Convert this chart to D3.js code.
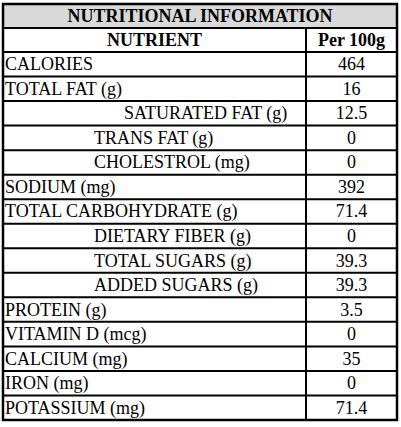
<!DOCTYPE html><html><head><meta charset="utf-8">
<script src="https://cdn.jsdelivr.net/npm/d3@7"></script>
<style>body{margin:0;background:#fff}</style></head><body>
<script>
const title = "NUTRITIONAL INFORMATION";
const headers = ["NUTRIENT", "Per 100g"];
const nutrients = ["CALORIES","TOTAL FAT (g)","SATURATED FAT (g)","TRANS FAT (g)","CHOLESTROL (mg)","SODIUM (mg)","TOTAL CARBOHYDRATE (g)","DIETARY FIBER (g)","TOTAL SUGARS (g)","ADDED SUGARS (g)","PROTEIN (g)","VITAMIN D (mcg)","CALCIUM (mg)","IRON (mg)","POTASSIUM (mg)"];
const values = ["464","16","12.5","0","0","392","71.4","0","39.3","39.3","3.5","0","35","0","71.4"];
const levels = [0,0,2,1,1,0,0,1,1,1,0,0,0,0,0];

const W=401,H=427, L=3, R=397, T=4, B=420, C=306;
const svg=d3.select("body").append("svg").attr("width",W).attr("height",H)
  .style("font-family","'Liberation Serif','Times New Roman',Times,serif").style("font-size","18px");
const hTitle=24, hHead=24;
const y=d3.scaleBand().domain(d3.range(nutrients.length)).range([T+hTitle+hHead,B]);
const indent=d3.scaleOrdinal().domain([0,1,2]).range([2,91,121]);
svg.append("rect").attr("x",L).attr("y",T).attr("width",R-L).attr("height",hTitle).attr("fill","#d9d9d9");
svg.append("text").attr("x",(L+R)/2).attr("y",T+hTitle/2+6).attr("text-anchor","middle").attr("font-weight","bold").text(title);
svg.append("text").attr("x",(L+C)/2).attr("y",T+hTitle+hHead/2+6).attr("text-anchor","middle").attr("font-weight","bold").text(headers[0]);
svg.append("text").attr("x",(C+R)/2).attr("y",T+hTitle+hHead/2+6).attr("text-anchor","middle").attr("font-weight","bold").text(headers[1]);
const g=svg.selectAll("g.row").data(nutrients).join("g");
g.append("text").attr("x",(d,i)=>L+indent(levels[i])).attr("y",(d,i)=>y(i)+y.bandwidth()/2+6).text(d=>d);
g.append("text").attr("x",(C+R)/2).attr("y",(d,i)=>y(i)+y.bandwidth()/2+6).attr("text-anchor","middle").text((d,i)=>values[i]);
const lines=[T+hTitle,T+hTitle+hHead,...d3.range(1,nutrients.length).map(i=>y(i))];
svg.selectAll("line.h").data(lines).join("line").attr("x1",L).attr("x2",R).attr("y1",d=>d).attr("y2",d=>d).attr("stroke","#000").attr("stroke-width",2);
svg.append("line").attr("x1",C).attr("x2",C).attr("y1",T+hTitle).attr("y2",B).attr("stroke","#000").attr("stroke-width",2);
svg.append("rect").attr("x",L).attr("y",T).attr("width",R-L).attr("height",B-T).attr("fill","none").attr("stroke","#000").attr("stroke-width",2.5);
</script></body></html>
